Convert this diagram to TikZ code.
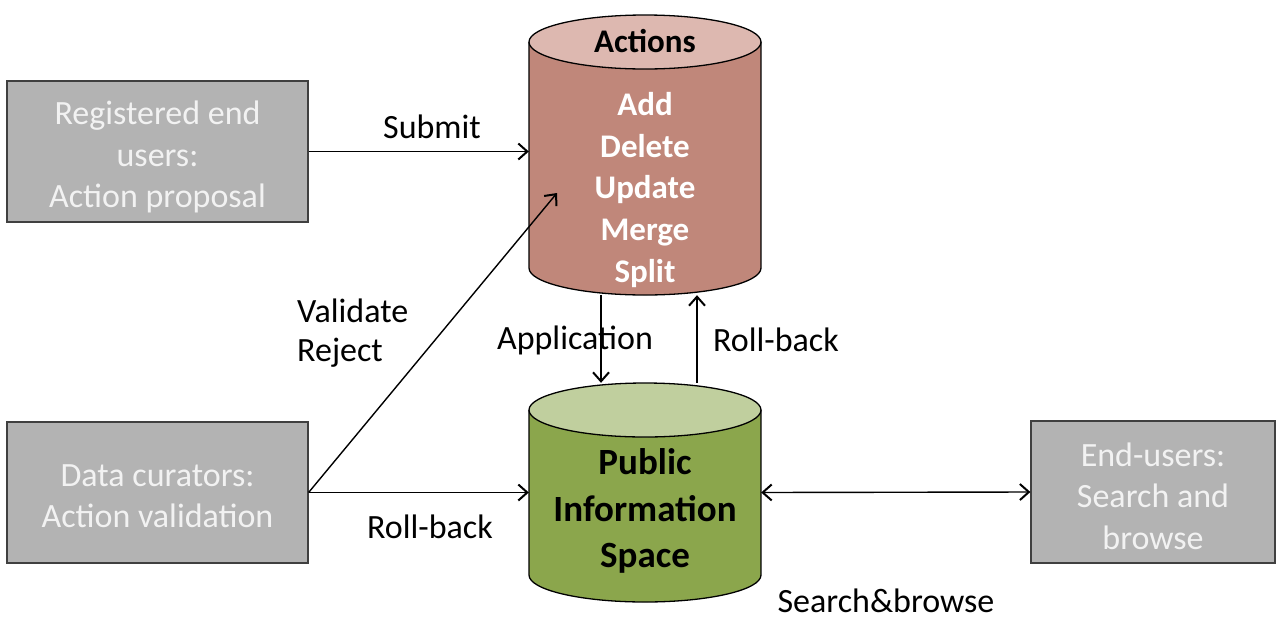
\documentclass[tikz,border=0pt]{standalone}
\usepackage{fontspec}
\setmainfont{Carlito}
\usetikzlibrary{arrows.meta}
\definecolor{boxgray}{HTML}{B3B3B3}
\definecolor{boxtext}{HTML}{F2F2F2}
\definecolor{actbody}{HTML}{C0877A}
\definecolor{acttop}{HTML}{DDB8B0}
\definecolor{pubbody}{HTML}{8BA64C}
\definecolor{pubtop}{HTML}{C0CF9E}
\tikzset{
  actor/.style={draw=black!75, line width=1.2pt, fill=boxgray, text=boxtext,
    minimum width=301pt, minimum height=141pt, inner sep=0pt, align=center,
    font=\fontsize{34}{41.5}\selectfont},
  lbl/.style={inner sep=0pt, font=\fontsize{34}{39}\selectfont},
  tip/.style={Straight Barb[length=9pt,width=16pt,line width=2pt]},
  arr/.style={line width=1.4pt, -{Straight Barb[length=9pt,width=16pt,line width=2pt]}},
  darr/.style={line width=1.4pt, {Straight Barb[length=9pt,width=16pt,line width=2pt]}-{Straight Barb[length=9pt,width=16pt,line width=2pt]}},
  cyl/.style={line width=1.3pt, draw=black},
  region/.style={inner sep=0pt, minimum width=232pt}
}
\begin{document}
\begin{tikzpicture}[x=1pt,y=-1pt]
\useasboundingbox (0,0) rectangle (1277,619);
% Actions cylinder
\fill[actbody] (529,42) rectangle (761,268);
\fill[actbody] (645,268) ellipse [x radius=116, y radius=27];
\draw[cyl] (529,42) -- (529,268) arc[start angle=180, end angle=0, x radius=116, y radius=27] -- (761,42);
\draw[cyl, fill=acttop] (645,42) ellipse [x radius=116, y radius=27];
% Public cylinder
\fill[pubbody] (529,410) rectangle (761,575);
\fill[pubbody] (645,575) ellipse [x radius=116, y radius=27];
\draw[cyl] (529,410) -- (529,575) arc[start angle=180, end angle=0, x radius=116, y radius=27] -- (761,410);
\draw[cyl, fill=pubtop] (645,410) ellipse [x radius=116, y radius=27];
% cylinder regions
\node[region, minimum height=280pt] (A) at (645,155) {};
\node[region, minimum height=219pt] (P) at (645,492.5) {};
% cylinder texts
\node[inner sep=0pt, font=\bfseries\fontsize{33}{40}\selectfont] (acttitle) at (645,41) {Actions};
\node[inner sep=0pt, align=center, text=white, font=\bfseries\fontsize{33}{41.7}\selectfont] (acttext) at (645,190) {Add\\Delete\\Update\\Merge\\Split};
\node[inner sep=0pt, align=center, font=\bfseries\fontsize{37}{46.5}\selectfont] (pubtext) at (645,511) {Public\\Information\\Space};
% actor boxes
\node[actor] (reg) at (157.5,151.5) {};
\node[inner sep=0pt, align=center, text=boxtext, font=\fontsize{34}{41.5}\selectfont] (regtext) at (157.5,157) {Registered end\\users:\\Action proposal};
\node[actor] (cur) at (157.5,492.5) {};
\node[inner sep=0pt, align=center, text=boxtext, font=\fontsize{34}{41.5}\selectfont] (curtext) at (157.5,496) {Data curators:\\Action validation};
\node[actor, minimum width=244pt, minimum height=142pt] (eu) at (1153,492) {};
\node[inner sep=0pt, align=center, text=boxtext, font=\fontsize{34}{41.5}\selectfont] (eutext) at (1153,496) {End-users:\\Search and\\browse};
% connectors
\coordinate (vr) at (557,193);
\draw[arr] (reg.east) -- (reg.east -| A.west);
\draw[arr] (cur.east) -- (vr);
\draw[arr] (cur.east) -- (P.west);
\draw[arr] ([xshift=-44pt]A.south) -- ([xshift=-44pt]P.north);
\draw[arr] ([xshift=52pt]P.north) -- ([xshift=52pt]A.south);
\draw[darr] (P.east) -- (eu.west);
% labels
\node[lbl] (submit) at (432,127) {Submit};
\node[lbl, anchor=west, align=left] (valrej) at (297,333) {Validate\\Reject};
\node[lbl] (appl) at (575,340) {Application};
\node[lbl] (rb1) at (776,340) {Roll-back};
\node[lbl] (rb2) at (430,527) {Roll-back};
\node[lbl] (sb) at (886,601) {Search\&browse};
\end{tikzpicture}
\end{document}
